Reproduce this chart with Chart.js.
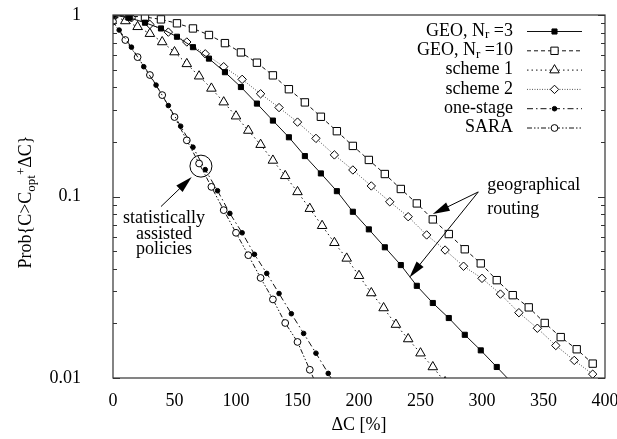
<!DOCTYPE html>
<html>
<head>
<meta charset="utf-8">
<script src="https://cdn.jsdelivr.net/npm/chart.js@4.4.1/dist/chart.umd.min.js"></script>
<style>
  html, body { margin: 0; padding: 0; background: #fff; }
  #wrap { width: 617px; height: 439px; }
</style>
</head>
<body>
<div id="wrap"><canvas id="ccdf" width="617" height="439"></canvas></div>
<script>
// ΔC [%] positions and Prob{C > Copt + ΔC} for each policy
const geo3X = [0, 13, 26, 39, 52, 65, 78, 91, 104, 117, 130, 143, 156, 169, 182, 195, 208, 221, 234, 247, 260, 273, 286, 299, 312, 325];
const geo3Y = [1, 0.966, 0.907, 0.843, 0.759, 0.665, 0.575, 0.484, 0.401, 0.325, 0.262, 0.212, 0.167, 0.134, 0.107, 0.0824, 0.0659, 0.0525, 0.0419, 0.0322, 0.0259, 0.0214, 0.0173, 0.0142, 0.0115, 0.0093];

const geo10X = [0, 13, 26, 39, 52, 65, 78, 91, 104, 117, 130, 143, 156, 169, 182, 195, 208, 221, 234, 247, 260, 273, 286, 299, 312, 325, 338, 351, 364, 377, 390];
const geo10Y = [1, 0.986, 0.975, 0.946, 0.90, 0.843, 0.776, 0.70, 0.622, 0.546, 0.465, 0.39, 0.33, 0.275, 0.229, 0.19, 0.159, 0.133, 0.11, 0.0916, 0.0748, 0.0621, 0.0512, 0.0428, 0.0346, 0.0286, 0.0245, 0.0201, 0.0168, 0.0144, 0.012];

const scheme1X = [0, 10, 20, 30, 40, 50, 60, 70, 80, 90, 100, 110, 120, 130, 140, 150, 160, 170, 180, 190, 200, 210, 220, 230, 240, 250, 260, 270];
const scheme1Y = [1, 0.927, 0.861, 0.789, 0.71, 0.625, 0.538, 0.46, 0.394, 0.331, 0.277, 0.231, 0.193, 0.158, 0.13, 0.106, 0.0857, 0.069, 0.0556, 0.0456, 0.0366, 0.0294, 0.0243, 0.0197, 0.0164, 0.0137, 0.0115, 0.0095];

const scheme2X = [0, 15, 30, 45, 60, 75, 90, 105, 120, 135, 150, 165, 180, 195, 210, 225, 240, 255, 270, 285, 300, 315, 330, 345, 360, 375, 390];
const scheme2Y = [1, 0.965, 0.887, 0.805, 0.71, 0.611, 0.519, 0.442, 0.368, 0.309, 0.257, 0.209, 0.1695, 0.14, 0.1143, 0.0935, 0.0774, 0.0614, 0.0507, 0.0413, 0.0354, 0.029, 0.0229, 0.0188, 0.0151, 0.0125, 0.0105];

const oneStageX = [5, 15, 25, 35, 45, 55, 65, 75, 85, 95, 105, 115, 125, 135, 145, 155, 165, 175, 185];
const oneStageY = [0.826, 0.665, 0.519, 0.411, 0.317, 0.244, 0.187, 0.1406, 0.1076, 0.0807, 0.0631, 0.048, 0.0377, 0.0292, 0.0226, 0.0176, 0.0137, 0.0106, 0.0082];

const saraX = [0, 10, 20, 30, 40, 50, 60, 70, 80, 90, 100, 110, 120, 130, 140, 150, 160, 170];
const saraY = [0.92, 0.728, 0.586, 0.467, 0.362, 0.274, 0.204, 0.152, 0.113, 0.0841, 0.0631, 0.0475, 0.0356, 0.0271, 0.0201, 0.0158, 0.0111, 0.0078];

const xTicks = [0, 50, 100, 150, 200, 250, 300, 350, 400];
const yTicks = [0.01, 0.1, 1];

const serif = '"Liberation Serif", "DejaVu Serif", "Times New Roman", serif';

function series(xs, ys) {
  return xs.map((x, i) => ({ x: x, y: ys[i] }));
}

// legend captions, pieces with a size and a vertical shift (for N_r)
const legendText = [
  [{ t: 'GEO, N', s: 18 }, { t: 'r', s: 13, dy: 4 }, { t: ' =3', s: 18 }],
  [{ t: 'GEO, N', s: 18 }, { t: 'r', s: 13, dy: 4 }, { t: ' =10', s: 18 }],
  [{ t: 'scheme 1', s: 18 }],
  [{ t: 'scheme 2', s: 18 }],
  [{ t: 'one-stage', s: 18 }],
  [{ t: 'SARA', s: 18 }]
];

function richWidth(ctx, parts) {
  let w = 0;
  parts.forEach(p => { ctx.font = p.s + 'px ' + serif; w += ctx.measureText(p.t).width; });
  return w;
}

function drawRich(ctx, parts, x, y) {
  let cx = x;
  parts.forEach(p => {
    ctx.font = p.s + 'px ' + serif;
    ctx.fillText(p.t, cx, y + (p.dy || 0));
    cx += ctx.measureText(p.t).width;
  });
}

function arrow(ctx, x1, y1, x2, y2) {
  const a = Math.atan2(y2 - y1, x2 - x1);
  const len = 17, hw = 4.5;
  ctx.beginPath();
  ctx.moveTo(x1, y1);
  ctx.lineTo(x2 - Math.cos(a) * len * 0.6, y2 - Math.sin(a) * len * 0.6);
  ctx.stroke();
  ctx.beginPath();
  ctx.moveTo(x2, y2);
  ctx.lineTo(x2 - Math.cos(a) * len - Math.sin(a) * hw, y2 - Math.sin(a) * len + Math.cos(a) * hw);
  ctx.lineTo(x2 - Math.cos(a) * len + Math.sin(a) * hw, y2 - Math.sin(a) * len - Math.cos(a) * hw);
  ctx.closePath();
  ctx.fill();
}

// frame, inward log ticks, legend, y title and the two annotations
const decorations = {
  id: 'decorations',
  afterDatasetsDraw(chart) {
    const ctx = chart.ctx;
    const area = chart.chartArea;
    const xs = chart.scales.x, ys = chart.scales.y;
    ctx.save();

    // frame
    ctx.strokeStyle = '#333';
    ctx.lineWidth = 1.2;
    ctx.setLineDash([]);
    ctx.strokeRect(area.left, area.top, area.right - area.left, area.bottom - area.top);

    // log ticks on left and right edges
    ctx.lineWidth = 1;
    [0.01, 0.1].forEach(d => {
      for (let m = 1; m <= 10; m++) {
        const v = d * m;
        const py = Math.round(ys.getPixelForValue(v)) + 0.5;
        const len = (m === 1 || m === 10) ? 7 : 4;
        ctx.beginPath();
        ctx.moveTo(area.left, py); ctx.lineTo(area.left + len, py);
        ctx.moveTo(area.right, py); ctx.lineTo(area.right - len, py);
        ctx.stroke();
      }
    });

    // legend
    ctx.fillStyle = '#000';
    ctx.textBaseline = 'middle';
    ctx.textAlign = 'left';
    chart.data.datasets.forEach((ds, i) => {
      const ry = 31 + i * 19.3;
      const parts = legendText[i];
      drawRich(ctx, parts, 513 - richWidth(ctx, parts), ry);
      ctx.strokeStyle = ds.borderColor;
      ctx.lineWidth = ds.borderWidth;
      ctx.setLineDash(ds.borderDash || []);
      ctx.beginPath();
      ctx.moveTo(527, ry + 0.5); ctx.lineTo(582, ry + 0.5);
      ctx.stroke();
      ctx.setLineDash([]);
      ctx.strokeStyle = '#000';
      ctx.fillStyle = ds.pointBackgroundColor;
      ctx.lineWidth = 1;
      Chart.helpers.drawPoint(ctx, { pointStyle: ds.pointStyle, radius: ds.pointRadius, rotation: 0, borderWidth: 1 }, 554.5, ry + 0.5);
      ctx.fillStyle = '#000';
    });

    // y axis title
    ctx.save();
    ctx.translate(25, 202);
    ctx.rotate(-Math.PI / 2);
    ctx.textBaseline = 'alphabetic';
    const title = [
      { t: 'Prob{C>C', s: 18 }, { t: 'opt', s: 13, dy: 4 },
      { t: '+', s: 13, dy: -6 }, { t: '\u0394C}', s: 18 }
    ];
    drawRich(ctx, title, -richWidth(ctx, title) / 2, 6);
    ctx.restore();

    // "statistically assisted policies" callout
    ctx.strokeStyle = '#000';
    ctx.lineWidth = 1;
    ctx.beginPath();
    ctx.arc(xs.getPixelForValue(71.5), ys.getPixelForValue(0.147), 11, 0, Math.PI * 2);
    ctx.stroke();
    arrow(ctx, xs.getPixelForValue(39), ys.getPixelForValue(0.088),
               xs.getPixelForValue(64), ys.getPixelForValue(0.128));
    ctx.textAlign = 'center';
    ctx.textBaseline = 'alphabetic';
    ctx.font = '18px ' + serif;
    const sx = xs.getPixelForValue(41.5), sy = ys.getPixelForValue(0.0711);
    ['statistically', 'assisted', 'policies'].forEach((t, i) => ctx.fillText(t, sx, sy + i * 15.5));

    // "geographical routing" callout
    const gx = xs.getPixelForValue(297), gy = ys.getPixelForValue(0.106);
    arrow(ctx, gx, gy, xs.getPixelForValue(260), ys.getPixelForValue(0.08));
    arrow(ctx, gx, gy, xs.getPixelForValue(241), ys.getPixelForValue(0.0358));
    ctx.textAlign = 'left';
    const tx = xs.getPixelForValue(304.3), ty = ys.getPixelForValue(0.1086);
    ctx.fillText('geographical', tx, ty);
    ctx.fillText('routing', tx, ty + 24);

    ctx.restore();
  }
};

const common = { borderWidth: 1, pointBorderWidth: 1, pointBorderColor: '#000', fill: false, tension: 0, clip: 0 };

const datasets = [
  Object.assign({}, common, { label: 'GEO, Nr =3', data: series(geo3X, geo3Y), borderColor: '#111', borderDash: [],
    pointStyle: 'rect', pointRadius: 3.6, pointBackgroundColor: '#000' }),
  Object.assign({}, common, { label: 'GEO, Nr =10', data: series(geo10X, geo10Y), borderColor: '#111', borderDash: [4, 3],
    pointStyle: 'rect', pointRadius: 5.2, pointBackgroundColor: '#fff' }),
  Object.assign({}, common, { label: 'scheme 1', data: series(scheme1X, scheme1Y), borderColor: '#111', borderDash: [1.5, 3],
    pointStyle: 'triangle', pointRadius: 5.5, pointBackgroundColor: '#fff' }),
  Object.assign({}, common, { label: 'scheme 2', data: series(scheme2X, scheme2Y), borderColor: '#555', borderDash: [1, 1.5],
    pointStyle: 'rectRot', pointRadius: 4.2, pointBackgroundColor: '#fff' }),
  Object.assign({}, common, { label: 'one-stage', data: series(oneStageX, oneStageY), borderColor: '#111', borderDash: [6, 3, 1.5, 3],
    pointStyle: 'circle', pointRadius: 2.3, pointBackgroundColor: '#000' }),
  Object.assign({}, common, { label: 'SARA', data: series(saraX, saraY), borderColor: '#111', borderDash: [5, 2, 1.5, 2, 1.5, 2],
    pointStyle: 'circle', pointRadius: 3.4, pointBackgroundColor: '#fff' })
];

new Chart(document.getElementById('ccdf'), {
  type: 'line',
  data: { datasets: datasets },
  options: {
    responsive: false,
    animation: false,
    layout: { padding: { left: 0, top: 15, right: 12, bottom: 0 } },
    plugins: { legend: { display: false }, tooltip: { enabled: false } },
    scales: {
      x: {
        type: 'linear',
        min: 0, max: 400,
        afterFit: s => { s.height = 61; s.paddingLeft = 0; s.paddingRight = 0; },
        afterBuildTicks: s => { s.ticks = xTicks.map(v => ({ value: v })); },
        grid: { display: false, drawTicks: false },
        border: { display: false },
        ticks: { color: '#000', padding: 12, maxRotation: 0, autoSkip: false, font: { family: serif, size: 18 } },
        title: { display: true, text: '\u0394C [%]', color: '#000', padding: { top: 0, bottom: 3 }, font: { family: serif, size: 18 } }
      },
      y: {
        type: 'logarithmic',
        min: 0.01, max: 1,
        afterFit: s => { s.width = 113; s.paddingTop = 0; s.paddingBottom = 0; },
        afterBuildTicks: s => { s.ticks = yTicks.map(v => ({ value: v })); },
        grid: { display: false, drawTicks: false },
        border: { display: false },
        ticks: { color: '#000', padding: 32, callback: v => String(v), font: { family: serif, size: 18 } }
      }
    }
  },
  plugins: [decorations]
});
</script>
</body>
</html>
